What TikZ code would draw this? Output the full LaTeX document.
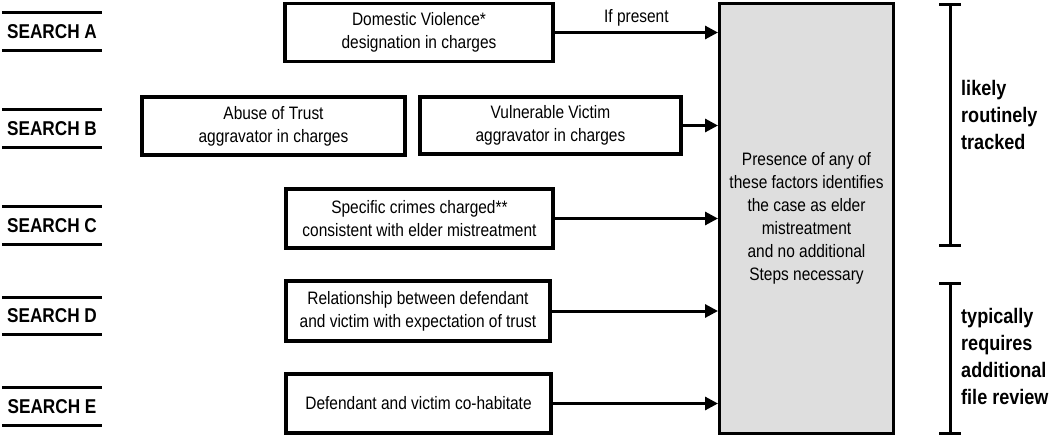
\documentclass[tikz,border=0pt]{standalone}
\usepackage{fontspec}
\setmainfont{Liberation Sans}[FakeStretch=0.86]
\usetikzlibrary{arrows.meta}
\tikzset{
  factor/.style={draw, line width=3.5pt, align=center, inner sep=0pt,
    font=\fontsize{18}{23}\selectfont},
  searchlbl/.style={minimum width=100pt, minimum height=37pt, inner sep=0pt,
    font=\bfseries\fontsize{20}{23}\selectfont},
  feed/.style={-{Triangle[length=13pt,width=13pt]}, line width=3pt},
  tag/.style={anchor=west, align=left, inner sep=0pt,
    font=\bfseries\fontsize{21}{27}\selectfont},
}
\begin{document}
\begin{tikzpicture}[x=1pt,y=-1pt]
\useasboundingbox (0,0) rectangle (1050,437);

% Search labels
\foreach \s/\y in {A/31.5,B/128.5,C/225.5,D/316,E/406.5}{
  \node[searchlbl] (s\s) at (52,\y) {SEARCH \s};
  \draw[line width=3pt] (s\s.north west) -- (s\s.north east)
                        (s\s.south west) -- (s\s.south east);
}

% Factors
\node[factor, minimum width=268pt, minimum height=58pt] (dv) at (419,32.5)
  {Domestic Violence*\\designation in charges};
\node[factor, minimum width=263pt, minimum height=58pt] (abuse) at (273.5,126)
  {Abuse of Trust\\aggravator in charges};
\node[factor, minimum width=261pt, minimum height=57pt] (vuln) at (550.5,125.5)
  {Vulnerable Victim\\aggravator in charges};
\node[factor, minimum width=267pt, minimum height=59pt] (crimes) at (419.5,218.5)
  {Specific crimes charged**\\consistent with elder mistreatment};
\node[factor, minimum width=264pt, minimum height=60pt] (rel) at (418,311)
  {Relationship between defendant\\and victim with expectation of trust};
\node[factor, minimum width=265pt, minimum height=59pt] (cohab) at (418.5,403.5)
  {Defendant and victim co-habitate};

% Result
\node[factor, line width=3pt, fill=black!13, minimum width=174pt, minimum height=430pt] (res) at (806.5,218.5)
  {Presence of any of\\these factors identifies\\the case as elder\\mistreatment\\and no additional\\Steps necessary};

% Arrows
\draw[feed] (dv.east) -- (dv.east -| res.west) node[midway, above=1pt, font=\fontsize{18}{20}\selectfont] {If present};
\foreach \f in {vuln,crimes,rel,cohab}
  \draw[feed] (\f.east) -- (\f.east -| res.west);

% Brackets
\coordinate (t1) at (950,4);
\coordinate (b1) at (950,245);
\coordinate (t2) at (950,283);
\coordinate (b2) at (950,433);
\draw[line width=3pt] (t1) -- (b1) ([xshift=-11pt]t1) -- ([xshift=11pt]t1) ([xshift=-11pt]b1) -- ([xshift=11pt]b1);
\draw[line width=3pt] (t2) -- (b2) ([xshift=-11pt]t2) -- ([xshift=11pt]t2) ([xshift=-11pt]b2) -- ([xshift=11pt]b2);
\node[tag] (routine) at (961,115) {likely\\routinely\\tracked};
\node[tag] (review) at (961,356) {typically\\requires\\additional\\file review};
\end{tikzpicture}
\end{document}
